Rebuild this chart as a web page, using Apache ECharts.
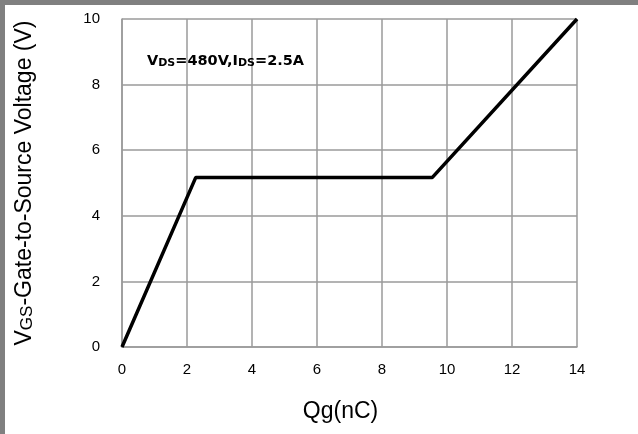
<!DOCTYPE html>
<html><head><meta charset="utf-8">
<script src="https://cdn.jsdelivr.net/npm/echarts@6/dist/echarts.min.js"></script>
<style>
html,body{margin:0;padding:0;background:#fff;}
#frame{position:absolute;left:0;top:0;width:638px;height:434px;box-sizing:border-box;border-top:5px solid #808080;border-left:5px solid #808080;}
#c{position:absolute;left:0;top:0;width:638px;height:434px;}
</style></head>
<body>
<div id="c"></div>
<div id="frame"></div>
<script>
const qg = [0, 2.27, 9.55, 14];
const vgs = [0, 5.17, 5.17, 10];
const xTicks = [0, 2, 4, 6, 8, 10, 12, 14];
const yTicks = [0, 2, 4, 6, 8, 10];

const chart = echarts.init(document.getElementById('c'), null, {renderer:'canvas'});
const font = 'Liberation Sans, Arial, sans-serif';
const bfont = 'DejaVu Sans, sans-serif';
chart.setOption({
  animation:false,
  backgroundColor:'#fff',
  grid:{left:122, right:61, top:19, bottom:87},
  xAxis:{type:'value', min:0, max:14, interval:2,
    axisLine:{lineStyle:{color:'#9a9a9a', width:1.5}},
    axisTick:{show:false},
    splitLine:{show:true, lineStyle:{color:'#9a9a9a', width:1.5}},
    axisLabel:{color:'#000', fontSize:15, fontFamily:font, margin:15},
    name:'Qg(nC)', nameLocation:'middle', nameGap:53,
    nameTextStyle:{color:'#000', fontSize:23, fontFamily:font, padding:[0,18,0,0]}
  },
  yAxis:{type:'value', min:0, max:10, interval:2,
    axisLine:{show:true, lineStyle:{color:'#9a9a9a', width:1.5}},
    axisTick:{show:false},
    splitLine:{show:true, lineStyle:{color:'#9a9a9a', width:1.5}},
    axisLabel:{color:'#000', fontSize:15, fontFamily:font, margin:22},
    name:'{a|V}{b|GS}{a|-Gate-to-Source Voltage (V)}', nameLocation:'middle', nameGap:86,
    nameTextStyle:{color:'#000', fontFamily:font,
      rich:{a:{fontSize:23, fontFamily:font, color:'#000'}, b:{fontSize:17, fontFamily:font, color:'#000', padding:[5,0,0,0]}}}
  },
  graphic:[{type:'text', left:147, top:54, z:100,
    style:{text:'{a|V}{b|DS}{a|=480V,I}{b|DS}{a|=2.5A}', 
      rich:{a:{fontSize:14.5, fontWeight:'bold', fontFamily:bfont, fill:'#000', color:'#000'},
            b:{fontSize:11, fontWeight:'bold', fontFamily:bfont, fill:'#000', color:'#000', padding:[4,0,0,0]}}}}],
  series:[{type:'line', data:qg.map((x,i)=>[x, vgs[i]]), symbol:'none',
    lineStyle:{color:'#000', width:3.5}}]
});
</script>
</body></html>
